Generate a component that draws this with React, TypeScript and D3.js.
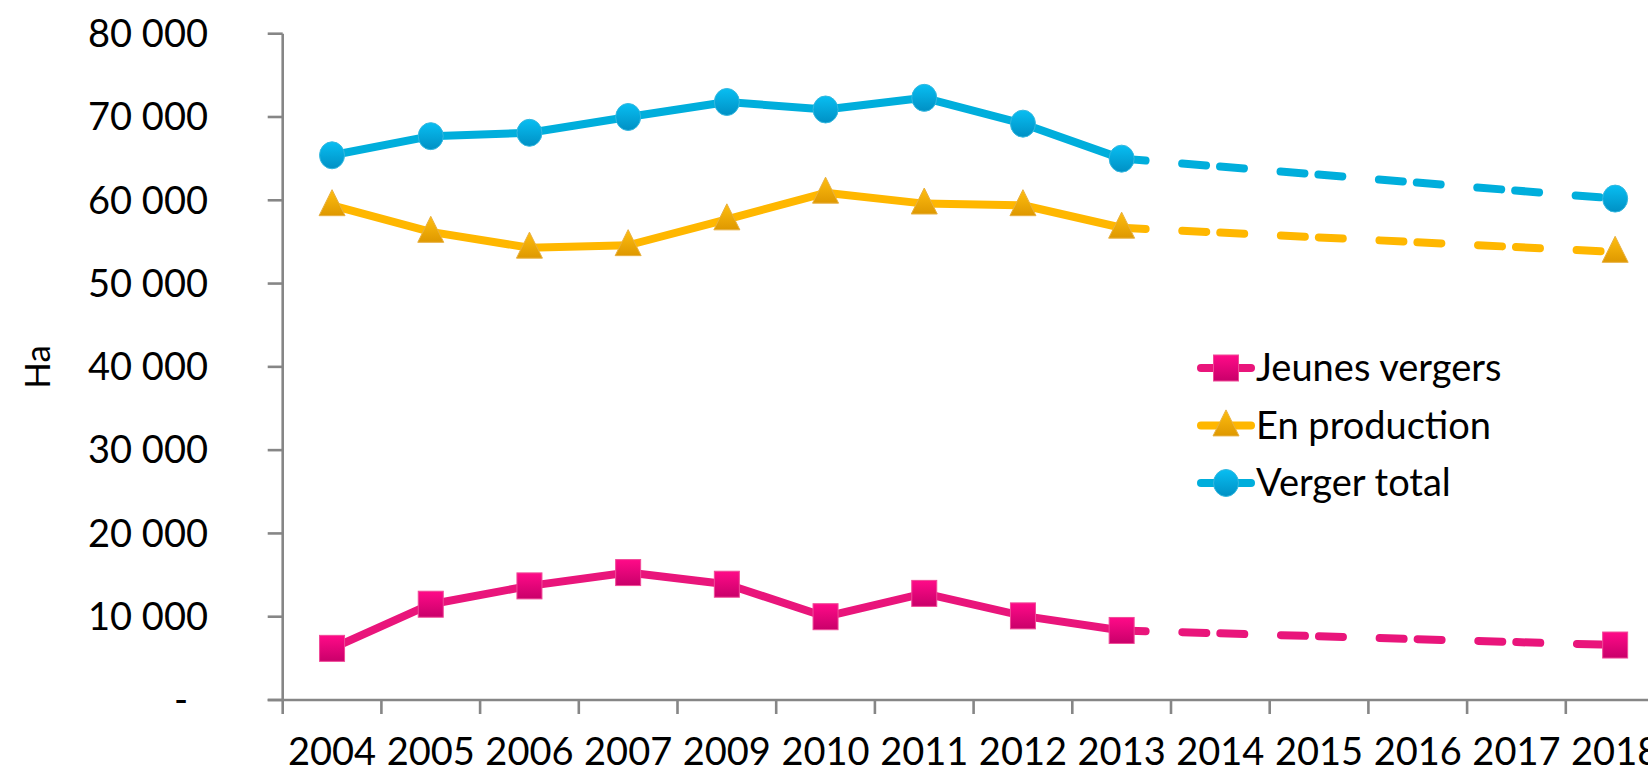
import { useMemo } from "react";
import * as d3 from "d3";

// Years on the category axis (2008 is missing in the source)
const years = ["2004", "2005", "2006", "2007", "2009", "2010", "2011", "2012", "2013", "2014", "2015", "2016", "2017", "2018"];

// Surfaces in ha; null where there is no value (the forecast gap)
const jeunesVergers = [6200, 11500, 13700, 15300, 13900, 10000, 12800, 10100, 8350, null, null, null, null, 6600];
const enProduction = [59400, 56200, 54300, 54600, 57700, 60900, 59600, 59400, 56700, null, null, null, null, 53800];
const vergerTotal = [65400, 67700, 68100, 70000, 71800, 70900, 72300, 69200, 65000, null, null, null, null, 60200];

const yTicks = [0, 10000, 20000, 30000, 40000, 50000, 60000, 70000, 80000];
const yTickLabels = ["-", "10 000", "20 000", "30 000", "40 000", "50 000", "60 000", "70 000", "80 000"];

const lastMeasured = "2013";

const series = [
  { name: "Jeunes vergers", values: jeunesVergers, color: "#E9157B", light: "#FF0A88", dark: "#C9006A", edge: "#F04A98", marker: "square" },
  { name: "En production", values: enProduction, color: "#FFB700", light: "#FFBE10", dark: "#DE9800", edge: "#E8B040", marker: "triangle" },
  { name: "Verger total", values: vergerTotal, color: "#00AEDC", light: "#08BEF2", dark: "#0090C4", edge: "#33B8E0", marker: "circle" },
];

const FONT = "Lato, 'Open Sans', sans-serif";
const AXIS = "#868686";
const LW = 8;

function Marker({ type, x, y, id, edge }: { type: string; x: number; y: number; id: string; edge: string }) {
  const fill = `url(#grad-${id})`;
  if (type === "square") {
    return <rect x={x - 12.5} y={y - 13} width={25} height={26} fill={fill} stroke={edge} strokeWidth={1} />;
  }
  if (type === "triangle") {
    const h = 26, w = 26;
    return (
      <path
        d={`M${x},${y - h * 0.6} L${x + w / 2},${y + h * 0.4} L${x - w / 2},${y + h * 0.4} Z`}
        fill={fill}
        stroke={edge}
        strokeWidth={1}
      />
    );
  }
  return <ellipse cx={x} cy={y} rx={12.5} ry={13.5} fill={fill} stroke={edge} strokeWidth={1} />;
}

export default function App() {
  const width = 1648;
  const height = 776;
  const left = 282.7;
  const band = 98.7;

  const x = useMemo(
    () => d3.scaleBand<string>().domain(years).range([left, left + band * years.length]).padding(0),
    []
  );
  const y = useMemo(() => d3.scaleLinear().domain([0, 80000]).range([700, 33.7]), []);

  const cx = (yr: string) => (x(yr) ?? 0) + x.bandwidth() / 2;

  type Pt = { yr: string; v: number | null };
  const line = d3
    .line<Pt>()
    .defined((d) => d.v != null)
    .x((d) => cx(d.yr))
    .y((d) => y(d.v as number));

  const lastIdx = years.indexOf(lastMeasured);

  return (
    <svg width={width} height={height} style={{ position: "absolute", left: 0, top: 0, background: "#fff" }}>
      <defs>
        {series.map((s, i) => (
          <linearGradient key={i} id={`grad-${i}`} x1="0" y1="0" x2="0" y2="1">
            <stop offset="0%" stopColor={s.light} />
            <stop offset="100%" stopColor={s.dark} />
          </linearGradient>
        ))}
      </defs>

      {/* y axis */}
      <line x1={left} x2={left} y1={y(80000)} y2={y(0)} stroke={AXIS} strokeWidth={2.6} />
      {yTicks.map((t, i) => (
        <g key={t}>
          <line x1={left - 15} x2={left} y1={y(t)} y2={y(t)} stroke={AXIS} strokeWidth={2.6} />
          <text
            x={t === 0 ? 188 : 208}
            y={y(t)}
            dy="0.35em"
            textAnchor="end"
            fontFamily={FONT}
            fontSize={38}
            fill="#000"
          >
            {yTickLabels[i]}
          </text>
        </g>
      ))}
      <text
        transform={`translate(50,${(y(0) + y(80000)) / 2}) rotate(-90)`}
        textAnchor="middle"
        fontFamily={FONT}
        fontSize={35}
        fill="#000"
      >
        Ha
      </text>

      {/* x axis */}
      <line x1={left - 15} x2={left + band * years.length} y1={y(0)} y2={y(0)} stroke={AXIS} strokeWidth={2.6} />
      {years.map((yr) => (
        <g key={yr}>
          <line x1={x(yr)} x2={x(yr)} y1={y(0)} y2={y(0) + 14} stroke={AXIS} strokeWidth={2.6} />
          <text x={cx(yr)} y={752} dy="0.35em" textAnchor="middle" fontFamily={FONT} fontSize={38} fill="#000">
            {yr}
          </text>
        </g>
      ))}

      {/* series */}
      {series.map((s, i) => {
        const pts: Pt[] = years.map((yr, j) => ({ yr, v: s.values[j] }));
        const solid = pts.slice(0, lastIdx + 1);
        const dashed = pts.slice(lastIdx).filter((d) => d.v != null);
        return (
          <g key={s.name}>
            <path d={line(solid) ?? ""} fill="none" stroke={s.color} strokeWidth={LW} strokeLinejoin="round" />
            <path
              d={line(dashed) ?? ""}
              fill="none"
              stroke={s.color}
              strokeWidth={LW}
              strokeLinecap="round"
              strokeDasharray="24,36.7,24,14"
            />
            {pts
              .filter((d) => d.v != null)
              .map((d) => (
                <Marker key={d.yr} type={s.marker} x={cx(d.yr)} y={y(d.v as number)} id={String(i)} edge={s.edge} />
              ))}
          </g>
        );
      })}

      {/* legend */}
      {series.map((s, i) => {
        const ly = 368 + i * 57.5;
        return (
          <g key={s.name}>
            <line x1={1201} x2={1251} y1={ly} y2={ly} stroke={s.color} strokeWidth={LW} strokeLinecap="round" />
            <Marker type={s.marker} x={1226} y={ly} id={String(i)} edge={s.edge} />
            <text x={1256} y={ly} dy="0.35em" fontFamily={FONT} fontSize={38} fill="#000">
              {s.name}
            </text>
          </g>
        );
      })}
    </svg>
  );
}
